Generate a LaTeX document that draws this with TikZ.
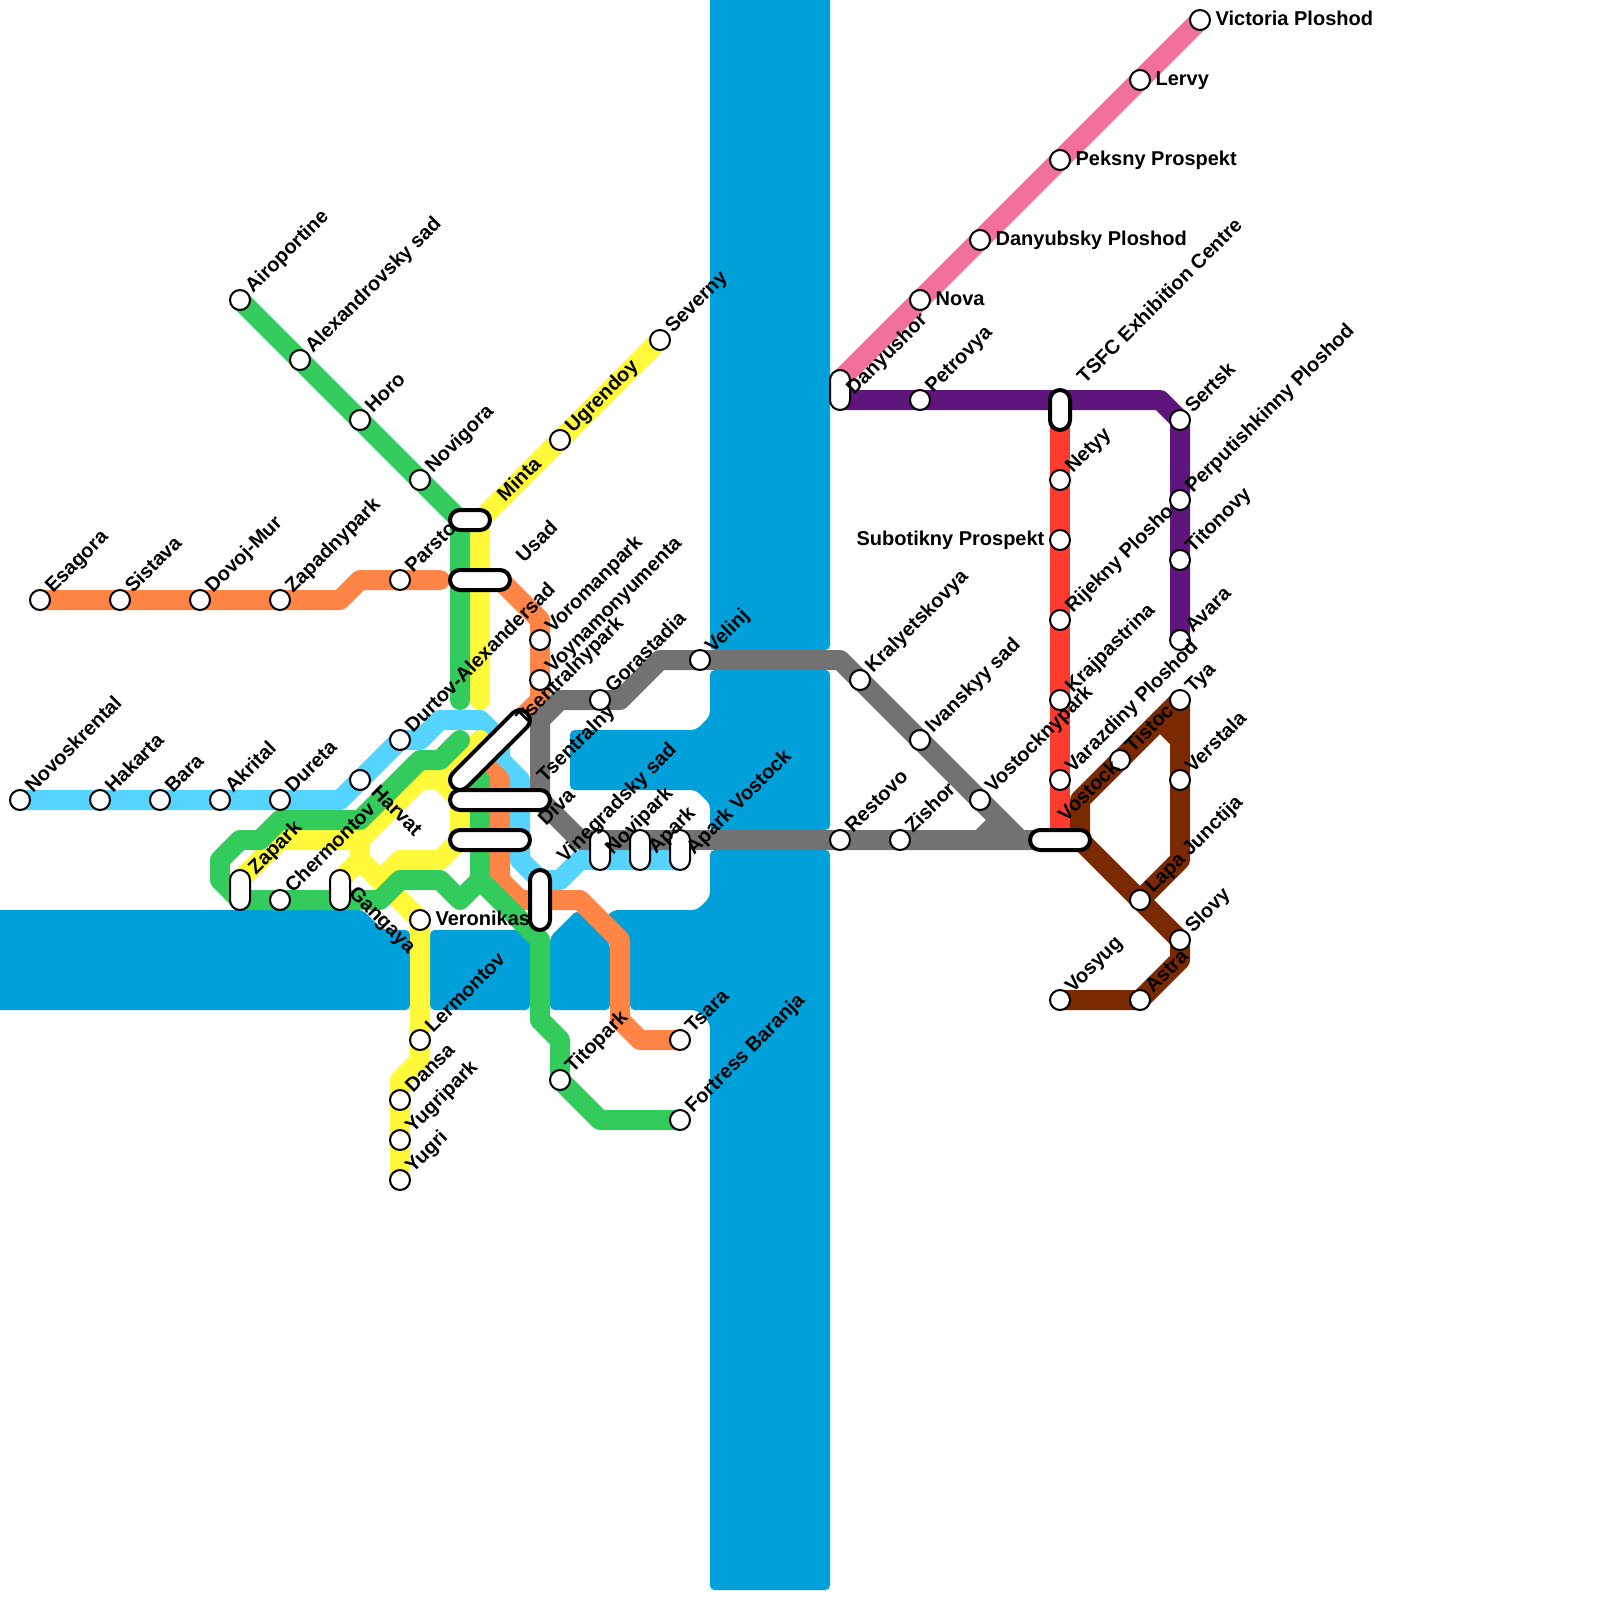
\documentclass[tikz,border=0pt]{standalone}
\usepackage{fontspec}
\setmainfont{Liberation Sans}
\usetikzlibrary{shapes.misc, backgrounds}

\definecolor{riverblue}{HTML}{00A1DB}
\definecolor{lineorange}{HTML}{FF8547}
\definecolor{linesky}{HTML}{54D4FF}
\definecolor{linegreen}{HTML}{33CB5B}
\definecolor{lineyellow}{HTML}{FFF93A}
\definecolor{linegrey}{HTML}{727272}
\definecolor{linepink}{HTML}{F2709C}
\definecolor{linepurple}{HTML}{5E167D}
\definecolor{linered}{HTML}{FF3B30}
\definecolor{linebrown}{HTML}{7A2900}

\begin{document}
\begin{tikzpicture}[
    x=15pt, y=-15pt,
    % Styles
    river/.style={
        fill=riverblue,
        rounded corners=3.5pt
    },
    metro/.style={
        draw=#1,
        line width=15pt,
        line cap=round,
        line join=round
    },
    stn/.style={
        circle,
        draw=black,
        fill=white,
        line width=1.5pt,
        minimum size=15pt,
        inner sep=0pt,
        outer sep=0pt
    },
    pill/.style={
        rounded rectangle,
        draw=black,
        fill=white,
        line width=1.5pt,
        minimum height=15pt,
        minimum width=#1,
        inner sep=0pt,
        outer sep=0pt
    },
    pill/.default=30pt,
    thickpill/.style={
        pill=#1,
        line width=3pt
    },
    lab/.style={
        anchor=base west,
        inner sep=0pt,
        font=\fontsize{15}{18}\selectfont\bfseries,
        xshift=9.75pt,
        yshift=4.5pt,
        rotate=45
    },
    labfree/.style={
        lab,
        xshift=-9.75pt,
        yshift=-4.5pt
    },
    labdown/.style={
        anchor=base west,
        inner sep=0pt,
        font=\fontsize{15}{18}\selectfont\bfseries,
        rotate=-45
    },
    labside/.style={
        anchor=base west,
        inner sep=0pt,
        font=\fontsize{15}{18}\selectfont\bfseries,
        xshift=11.5pt,
        yshift=-3.75pt
    }
]
\clip (0,0) rectangle (80,80);

% Stations
\node[stn] (esagora) at (2,30) {};
\node[stn] (sistava) at (6,30) {};
\node[stn] (dovojmur) at (10,30) {};
\node[stn] (zapadnypark) at (14,30) {};
\node[stn] (parsto) at (20,29) {};
\node[stn] (voromanpark) at (27,32) {};
\node[stn] (voynamonyumenta) at (27,34) {};
\node[stn] (tsara) at (34,52) {};

\node[stn] (novoskrental) at (1,40) {};
\node[stn] (hakarta) at (5,40) {};
\node[stn] (bara) at (8,40) {};
\node[stn] (akrital) at (11,40) {};
\node[stn] (dureta) at (14,40) {};
\node[stn] (harvat) at (18,39) {};
\node[stn] (durtov) at (20,37) {};

\node[stn] (airoportine) at (12,15) {};
\node[stn] (alexandrovsky) at (15,18) {};
\node[stn] (horo) at (18,21) {};
\node[stn] (novigora) at (21,24) {};
\node[stn] (chermontov) at (14,45) {};
\node[stn] (titopark) at (28,54) {};
\node[stn] (fortress) at (34,56) {};

\node[stn] (severny) at (33,17) {};
\node[stn] (ugrendoy) at (28,22) {};
\node[stn] (veronikas) at (21,46) {};
\node[stn] (lermontov) at (21,52) {};
\node[stn] (dansa) at (20,55) {};
\node[stn] (yugripark) at (20,57) {};
\node[stn] (yugri) at (20,59) {};

\node[stn] (gorastadia) at (30,35) {};
\node[stn] (velinj) at (35,33) {};
\node[stn] (kralyetskovya) at (43,34) {};
\node[stn] (ivanskyy) at (46,37) {};
\node[stn] (vostocknypark) at (49,40) {};
\node[stn] (restovo) at (42,42) {};
\node[stn] (zishor) at (45,42) {};

\node[stn] (victoria) at (60,1) {};
\node[stn] (lervy) at (57,4) {};
\node[stn] (peksny) at (53,8) {};
\node[stn] (danyubsky) at (49,12) {};
\node[stn] (nova) at (46,15) {};

\node[stn] (petrovya) at (46,20) {};
\node[stn] (sertsk) at (59,21) {};
\node[stn] (perputishkinny) at (59,25) {};
\node[stn] (titonovy) at (59,28) {};
\node[stn] (avara) at (59,32) {};

\node[stn] (netyy) at (53,24) {};
\node[stn] (subotikny) at (53,27) {};
\node[stn] (rijekny) at (53,31) {};
\node[stn] (krajpastrina) at (53,35) {};
\node[stn] (varazdiny) at (53,39) {};

\node[stn] (tya) at (59,35) {};
\node[stn] (tistoc) at (56,38) {};
\node[stn] (verstala) at (59,39) {};
\node[stn] (lapa) at (57,45) {};
\node[stn] (slovy) at (59,47) {};
\node[stn] (astra) at (57,50) {};
\node[stn] (vosyug) at (53,50) {};

% Interchanges
\node[pill, rotate=90] (danyushor) at (42,19.5) {};
\node[thickpill=30pt, rotate=90] (tsfc) at (53,20.5) {};
\node[thickpill=30pt] (minta) at (23.5,26) {};
\node[thickpill=45pt] (usad) at (24,29) {};
\node[thickpill=78.6pt, rotate=45] (tsentralnypark) at (24.5,37.5) {};
\node[thickpill=75pt] (diva) at (25,40) {};
\node[thickpill=60pt] (tsentralny) at (24.5,42) {};
\node[thickpill=45pt, rotate=90] (vinegradsky) at (27,45) {};
\node[thickpill=45pt] (vostock) at (53,42) {};
\node[pill, rotate=90] (zapark) at (12,44.5) {};
\node[pill, rotate=90] (gangaya) at (17,44.5) {};
\node[pill, rotate=90] (novipark) at (30,42.5) {};
\node[pill, rotate=90] (apark) at (32,42.5) {};
\node[pill, rotate=90] (aparkvostock) at (34,42.5) {};

% Interchange ends
\coordinate (mintaw) at (23,26);
\coordinate (mintae) at (24,26);
\coordinate (usade) at (25,29);
\coordinate (tsfcn) at (53,20);
\coordinate (tsfcs) at (53,21);
\coordinate (danyn) at (42,19);
\coordinate (danys) at (42,20);
\coordinate (vostocke) at (54,42);
\coordinate (zaparkn) at (12,44);
\coordinate (zaparks) at (12,45);
\coordinate (gangayan) at (17,44);
\coordinate (divae) at (27,40);

% Bends
\coordinate (oa) at (17,30);
\coordinate (ob) at (18,29);
\coordinate (oc) at (22,29);
\coordinate (od) at (27,31);
\coordinate (oe) at (27,35);
\coordinate (of) at (24,38);
\coordinate (og) at (25,39);
\coordinate (oh) at (25,44);
\coordinate (oi) at (26,45);
\coordinate (oj) at (29,45);
\coordinate (ok) at (31,47);
\coordinate (ol) at (31,51);
\coordinate (om) at (32,52);

\coordinate (sa) at (17,40);
\coordinate (sb) at (21,37);
\coordinate (sc) at (22,36);
\coordinate (sd) at (24,36);
\coordinate (se) at (25,37);
\coordinate (sf) at (25,38);
\coordinate (sg) at (26,39);
\coordinate (sh) at (26,43);
\coordinate (si) at (27,44);
\coordinate (sj) at (28,44);
\coordinate (sk) at (29,43);
\coordinate (sl) at (34,43);

\coordinate (ga) at (23,35);
\coordinate (gb) at (23,37);
\coordinate (gc) at (22,38);
\coordinate (gd) at (21,38);
\coordinate (ge) at (18,41);
\coordinate (gf) at (14,41);
\coordinate (gg) at (13,42);
\coordinate (gh) at (12,42);
\coordinate (gi) at (11,43);
\coordinate (gj) at (11,44);
\coordinate (gk) at (19,45);
\coordinate (gl) at (20,44);
\coordinate (gm) at (22,44);
\coordinate (gn) at (23,45);
\coordinate (gp) at (24,44);
\coordinate (gq) at (24,39);
\coordinate (gr) at (27,47);
\coordinate (gs) at (27,51);
\coordinate (gt) at (28,52);
\coordinate (gu) at (30,56);

\coordinate (ya) at (24,35);
\coordinate (yb) at (14,42);
\coordinate (yc) at (18,42);
\coordinate (yd) at (21,39);
\coordinate (ye) at (22,39);
\coordinate (yf) at (24,37);
\coordinate (yg) at (23,40);
\coordinate (yh) at (23,42);
\coordinate (yi) at (22,43);
\coordinate (yj) at (20,43);
\coordinate (yk) at (19,44);
\coordinate (yl) at (18,43);
\coordinate (ym) at (21,53);
\coordinate (yn) at (20,54);

\coordinate (ka) at (27,36);
\coordinate (kb) at (28,35);
\coordinate (kc) at (31,35);
\coordinate (kd) at (33,33);
\coordinate (ke) at (42,33);
\coordinate (kf) at (51,42);
\coordinate (kg) at (29,42);
\coordinate (kh) at (49,42);
\coordinate (ki) at (50,41);

\coordinate (pa) at (58,20);
\coordinate (ba) at (54,40);
\coordinate (bb) at (59,43);
\coordinate (bc) at (58,36);
\coordinate (bd) at (59,37);
\coordinate (be) at (59,48);

% Labels
\node[lab] (esagorat) at (esagora) {Esagora};
\node[lab] (sistavat) at (sistava) {Sistava};
\node[lab] (dovojmurt) at (dovojmur) {Dovoj-Mur};
\node[lab] (zapadnyparkt) at (zapadnypark) {Zapadnypark};
\node[lab] (parstot) at (parsto) {Parsto};
\node[lab] (voromanparkt) at (voromanpark) {Voromanpark};
\node[lab] (voynamonyumentat) at (voynamonyumenta) {Voynamonyumenta};
\node[lab] (tsarat) at (tsara) {Tsara};
\node[lab] (novoskrentalt) at (novoskrental) {Novoskrental};
\node[lab] (hakartat) at (hakarta) {Hakarta};
\node[lab] (barat) at (bara) {Bara};
\node[lab] (akritalt) at (akrital) {Akrital};
\node[lab] (duretat) at (dureta) {Dureta};
\node[labdown] (harvatt) at (18.5,39.65) {Harvat};
\node[lab] (durtovt) at (durtov) {Durtov-Alexandersad};
\node[lab] (airoportinet) at (airoportine) {Airoportine};
\node[lab] (alexandrovskyt) at (alexandrovsky) {Alexandrovsky sad};
\node[lab] (horot) at (horo) {Horo};
\node[lab] (novigorat) at (novigora) {Novigora};
\node[lab] (chermontovt) at (chermontov) {Chermontov};
\node[lab] (titoparkt) at (titopark) {Titopark};
\node[lab] (fortresst) at (fortress) {Fortress Baranja};
\node[lab] (severnyt) at (severny) {Severny};
\node[lab] (ugrendoyt) at (ugrendoy) {Ugrendoy};
\node[labside] (veronikast) at (veronikas) {Veronikas};
\node[lab] (lermontovt) at (lermontov) {Lermontov};
\node[lab] (dansat) at (dansa) {Dansa};
\node[lab] (yugriparkt) at (yugripark) {Yugripark};
\node[lab] (yugrit) at (yugri) {Yugri};
\node[lab] (gorastadiat) at (gorastadia) {Gorastadia};
\node[lab] (velinjt) at (velinj) {Velinj};
\node[lab] (kralyetskovyat) at (kralyetskovya) {Kralyetskovya};
\node[lab] (ivanskyyt) at (ivanskyy) {Ivanskyy sad};
\node[lab] (vostocknyparkt) at (vostocknypark) {Vostocknypark};
\node[lab] (restovot) at (restovo) {Restovo};
\node[lab] (zishort) at (zishor) {Zishor};
\node[labside] (victoriat) at (victoria) {Victoria Ploshod};
\node[labside] (lervyt) at (lervy) {Lervy};
\node[labside] (peksnyt) at (peksny) {Peksny Prospekt};
\node[labside] (danyubskyt) at (danyubsky) {Danyubsky Ploshod};
\node[labside] (novat) at (nova) {Nova};
\node[lab] (petrovyat) at (petrovya) {Petrovya};
\node[lab] (sertskt) at (sertsk) {Sertsk};
\node[lab] (perputishkinnyt) at (perputishkinny) {Perputishkinny Ploshod};
\node[lab] (titonovyt) at (titonovy) {Titonovy};
\node[lab] (avarat) at (avara) {Avara};
\node[lab] (netyyt) at (netyy) {Netyy};
\node[labside, anchor=base east, xshift=-23pt] (subotiknyt) at (subotikny) {Subotikny Prospekt};
\node[lab] (rijeknyt) at (rijekny) {Rijekny Plosho};
\node[lab] (krajpastrinat) at (krajpastrina) {Krajpastrina};
\node[lab] (varazdinyt) at (varazdiny) {Varazdiny Ploshod};
\node[lab] (tyat) at (tya) {Tya};
\node[lab] (tistoct) at (tistoc) {Tistoc};
\node[lab] (verstalat) at (verstala) {Verstala};
\node[lab] (lapat) at (lapa) {Lapa Junctija};
\node[lab] (slovyt) at (slovy) {Slovy};
\node[lab] (astrat) at (astra) {Astra};
\node[lab] (vosyugt) at (vosyug) {Vosyug};
\node[labfree] (mintat) at (24.85,24.75) {Minta};
\node[labfree] (usadt) at (25.8,27.8) {Usad};
\node[labfree] (tsfct) at (53.85,18.85) {TSFC Exhibition Centre};
\node[labfree] (danyushort) at (42.3,19.4) {Danyushor};
\node[labfree] (zaparkt) at (12.4,43.4) {Zapark};
\node[labdown] (gangayat) at (17.4,44.7) {Gangaya};
\node[labfree] (tsentralnyparkt) at (25.8,35.9) {Tsentralnypark};
\node[labfree] (tsentralnyt) at (26.85,38.8) {Tsentralny};
\node[labfree] (divat) at (26.9,40.95) {Diva};
\node[labfree] (vinegradskyt) at (27.85,42.8) {Vinegradsky sad};
\node[labfree] (noviparkt) at (30.25,42.4) {Novipark};
\node[labfree] (aparkt) at (32.4,42.35) {Apark};
\node[labfree] (aparkvostockt) at (34.3,42.4) {Apark Vostock};
\node[labfree] (vostockt) at (52.9,40.75) {Vostock};

\begin{scope}[on background layer]
% River
\path[river] (35.5,-2) -- (35.5,32.5) -- (41.5,32.5) -- (41.5,-2) -- cycle;
\path[river] (35.5,33.5) -- (35.5,35.8) -- (34.8,36.5) -- (28.5,36.5) -- (28.5,39.5) -- (34.8,39.5) -- (35.5,40.2) -- (35.5,41.5) -- (41.5,41.5) -- (41.5,33.5) -- cycle;
\path[river] (35.5,42.5) -- (35.5,44.85) -- (34.85,45.5) -- (30.65,45.5) -- (30.3,45.85) -- (31.5,47.15) -- (31.5,50.5) -- (34.85,50.5) -- (35.5,51.15) -- (35.5,79.5) -- (41.5,79.5) -- (41.5,42.5) -- cycle;
\path[river] (27.5,46.85) -- (28.85,45.5) -- (30.5,47.15) -- (30.5,50.5) -- (27.5,50.5) -- cycle;
\path[river] (21.5,46.5) -- (26.5,46.5) -- (26.5,50.5) -- (21.5,50.5) -- cycle;
\path[river] (-2,45.5) -- (18.15,45.5) -- (19.15,46.5) -- (20.5,46.5) -- (20.5,50.5) -- (-2,50.5) -- cycle;

% Lines
\draw[metro=linesky] (novoskrental.center) -- (sa) -- (durtov.center) -- (sb) -- (sc) -- (sd) -- (se) -- (sf) -- (sg) -- (sh) -- (si) -- (sj) -- (sk) -- (sl);
\draw[metro=lineyellow] (severny.center) -- (mintae) -- (ya);
\draw[metro=lineyellow] (zaparkn) -- (yb) -- (yc) -- (yd) -- (ye) -- (yf);
\draw[metro=lineyellow] (ye) -- (yg) -- (yh) -- (yi) -- (yj) -- (yk) -- (yl) -- (yc);
\draw[metro=lineyellow] (gangayan) -- (yl) -- (veronikas.center) -- (ym) -- (yn) -- (yugri.center);
\draw[metro=lineorange] (esagora.center) -- (oa) -- (ob) -- (oc);
\draw[metro=lineorange] (usade) -- (od) -- (oe) -- (of) -- (og) -- (oh) -- (oi) -- (oj) -- (ok) -- (ol) -- (om) -- (tsara.center);
\draw[metro=linegreen] (airoportine.center) -- (mintaw) -- (ga);
\draw[metro=linegreen] (gb) -- (gc) -- (gd) -- (ge) -- (gf) -- (gg) -- (gh) -- (gi) -- (gj) -- (zaparks) -- (gk) -- (gl) -- (gm) -- (gn) -- (gp) -- (gr) -- (gs) -- (gt) -- (titopark.center) -- (gu) -- (fortress.center);
\draw[metro=linegreen] (gq) -- (gp);
\draw[metro=linegrey] (divae) -- (ka) -- (kb) -- (kc) -- (kd) -- (ke) -- (kf);
\draw[metro=linegrey] (divae) -- (kg) -- (vostock.center);
\draw[metro=linegrey] (kh) -- (ki);
\draw[metro=linepink] (victoria.center) -- (danyn);
\draw[metro=linepurple] (danys) -- (pa) -- (sertsk.center) -- (avara.center);
\draw[metro=linered] (tsfcs) -- (vostock.center);
\draw[metro=linebrown] (vostocke) -- (ba) -- (tya.center) -- (bb) -- (lapa.center);
\draw[metro=linebrown] (bc) -- (bd);
\draw[metro=linebrown] (vostocke) -- (slovy.center) -- (be) -- (astra.center) -- (vosyug.center);
\end{scope}

\end{tikzpicture}
\end{document}
